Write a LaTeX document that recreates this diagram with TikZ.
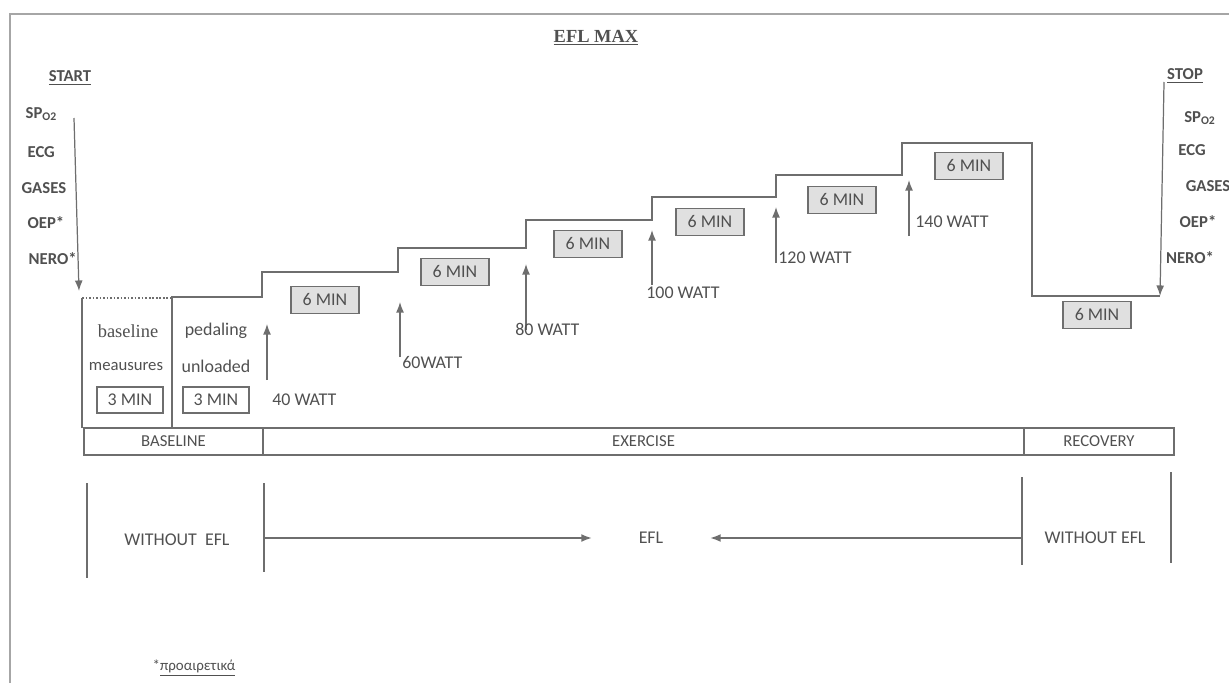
\documentclass[tikz,border=0pt]{standalone}
\usepackage{fontspec}
\setmainfont{Carlito}
\newfontfamily\titlefont{Liberation Serif}
\usetikzlibrary{arrows.meta, positioning}
\definecolor{ink}{HTML}{505050}
\definecolor{rule}{HTML}{6E6E6E}
\definecolor{boxgrey}{HTML}{E0E0E0}

\begin{document}
\begin{tikzpicture}[
  x=0.02cm, y=-0.02cm, >={Latex[length=6pt,width=4.5pt]},
  color=rule, text=ink, line width=0.7pt,
  font=\fontsize{10.2}{12}\selectfont,
  sixmin/.style={rectangle, draw, fill=boxgrey, minimum width=1.36cm, minimum height=0.54cm, inner sep=0pt},
  threemin/.style={rectangle, draw, minimum width=1.32cm, minimum height=0.52cm, inner sep=0pt},
  phase/.style={rectangle, draw, minimum height=0.54cm, inner sep=0pt, font=\fontsize{9.5}{11}\selectfont},
  meas/.style={font=\bfseries\fontsize{9.5}{11}\selectfont},
  watt/.style={anchor=west, inner sep=1pt},
  cap/.style={inner sep=1pt}
]
  \useasboundingbox (0,0) rectangle (1229,683);
  % frame of the page
  \draw[line width=1.1pt, draw=black!35] (10,683) -- (10,14) -- (1229,14);

  \node[font=\titlefont\bfseries\fontsize{10.5}{12}\selectfont] (title) at (596,38) {\underline{EFL MAX}};

  % start measures
  \node[meas] (start) at (70,78) {\underline{START}};
  \node[meas, anchor=west, inner sep=0pt] (spa) at (25,114) {SP\textsubscript{O2}};
  \node[meas, anchor=west, inner sep=0pt] (ecga) at (27,152) {ECG};
  \node[meas, anchor=west, inner sep=0pt] (gasa) at (21,188) {GASES};
  \node[meas, anchor=west, inner sep=0pt] (oepa) at (27,223) {OEP*};
  \node[meas, anchor=west, inner sep=0pt] (neroa) at (28,259) {NERO*};
  \coordinate (starttop) at (74,118);
  \coordinate (startend) at (79,291);
  \draw[->] (starttop) -- (startend);

  % stop measures
  \node[meas] (stop) at (1185,76) {\underline{STOP}};
  \node[meas] (spb) at (1200,118) {SP\textsubscript{O2}};
  \node[meas] (ecgb) at (1192,150) {ECG};
  \node[meas] (gasb) at (1208,186) {GASES};
  \node[meas] (oepb) at (1198,222) {OEP*};
  \node[meas] (nerob) at (1190,258) {NERO*};
  \coordinate (stoptop) at (1164,82);
  \coordinate (stopend) at (1160,296);
  \draw[->] (stoptop) -- (stopend);

  % load profile
  \draw[dash pattern=on 1pt off 1pt, line width=1pt] (82,298) -- (172,298);
  \draw (82,428) -- (82,298);
  \draw (172,428) -- (172,297) -- (262,297) -- (262,272) -- (398,272) -- (398,248)
    -- (526,248) -- (526,220) -- (652,220) -- (652,197) -- (776,197) -- (776,175)
    -- (902,175) -- (902,143) -- (1032,143) -- (1032,296) -- (stopend);

  \node[font=\titlefont\fontsize{10.5}{12}\selectfont] (basel) at (128,331) {baseline};
  \node[font=\fontsize{9.5}{11}\selectfont] (meau) at (126,366) {meausures};
  \node[threemin] (tmina) at (130,400) {3 MIN};
  \node (pedal) at (216,331) {pedaling};
  \node (unload) at (216,366) {unloaded};
  \node[threemin] (tminb) at (216,400) {3 MIN};

  \node[sixmin] (sa) at (325,300) {6 MIN};
  \node[sixmin] (sb) at (455,272) {6 MIN};
  \node[sixmin] (sc) at (588,244) {6 MIN};
  \node[sixmin] (sd) at (710,222) {6 MIN};
  \node[sixmin] (se) at (842,200) {6 MIN};
  \node[sixmin] (sf) at (969,166) {6 MIN};
  \node[sixmin] (sg) at (1097,315) {6 MIN};

  % load steps
  \coordinate (wa0) at (267,380); \coordinate (wa1) at (267,324);
  \coordinate (wb0) at (400,357); \coordinate (wb1) at (400,302);
  \coordinate (wc0) at (526,330); \coordinate (wc1) at (526,264);
  \coordinate (wd0) at (652,285); \coordinate (wd1) at (652,230);
  \coordinate (we0) at (776,263); \coordinate (we1) at (776,207);
  \coordinate (wf0) at (909,236); \coordinate (wf1) at (909,180);
  \draw[->] (wa0) -- (wa1);
  \draw[->] (wb0) -- (wb1);
  \draw[->] (wc0) -- (wc1);
  \draw[->] (wd0) -- (wd1);
  \draw[->] (we0) -- (we1);
  \draw[->] (wf0) -- (wf1);
  \node[watt] (la) at (270,400) {40 WATT};
  \node[watt] (lb) at (400,363) {60WATT};
  \node[watt] (lc) at (513,329) {80 WATT};
  \node[watt] (ld) at (644,293) {100 WATT};
  \node[watt] (le) at (776,258) {120 WATT};
  \node[watt] (lf) at (913,222) {140 WATT};

  % phases
  \node[phase, minimum width=3.58cm] (pbase) at (173.5,441.5) {BASELINE};
  \node[phase, minimum width=15.22cm] (pex) at (643.5,441.5) {EXERCISE};
  \node[phase, minimum width=3.0cm] (prec) at (1099,441.5) {RECOVERY};

  % EFL condition
  \draw (87,483) -- (87,578);
  \draw (264,483) -- (264,572);
  \draw (1022,477) -- (1022,565);
  \draw (1171,472) -- (1171,563);
  \node (wola) at (177,540) {WITHOUT\ \ EFL};
  \node (wolb) at (1095,538) {WITHOUT EFL};
  \node[minimum width=2.34cm, inner sep=0pt] (efl) at (651,538) {EFL};
  \coordinate (efla) at (264,538);
  \coordinate (eflb) at (1022,538);
  \draw[->, line width=1pt] (efla) -- (efl.west);
  \draw[->, line width=1pt] (eflb) -- (efl.east);

  \node[font=\fontsize{8.5}{10}\selectfont, anchor=west, inner sep=0pt] (note) at (152,668) {*\underline{προαιρετικά}};
\end{tikzpicture}
\end{document}
